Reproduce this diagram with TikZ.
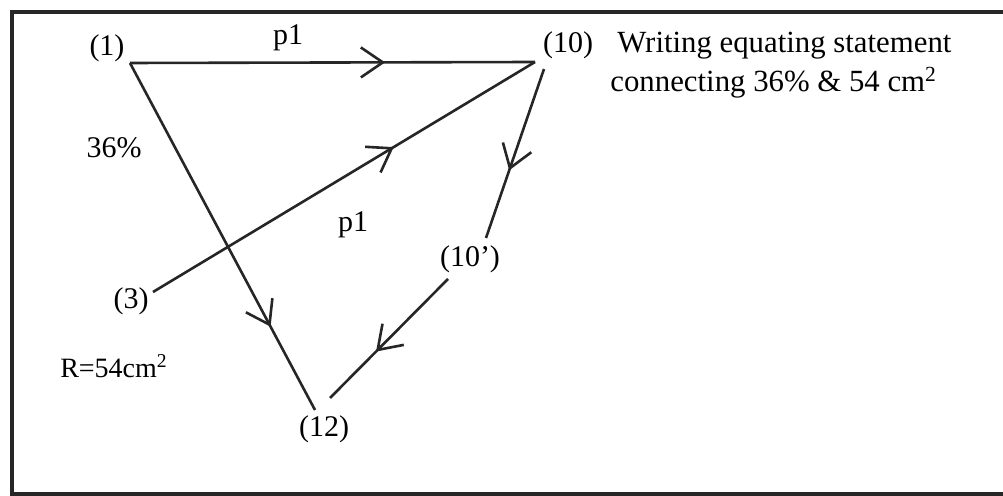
\documentclass[tikz,border=0pt]{standalone}
\usepackage{fontspec}
\setmainfont{Liberation Serif}
\usetikzlibrary{arrows.meta, decorations.markings}

\begin{document}
\begin{tikzpicture}[
  x=0.5pt, y=-0.5pt,
  font=\fontsize{15}{19}\selectfont,
  lbl/.style={anchor=base, inner sep=0pt},
  edge/.style={line width=1.3pt, draw=black!85},
  midarrow/.style={postaction={decorate}, decoration={markings,
      mark=at position #1 with {\arrow{Straight Barb[length=11pt, width=15pt, line width=1.3pt]}}}},
]
\useasboundingbox (0,0) rectangle (1003,496);
\draw[line width=1.6pt, black!85] (1012,12) -- (12,12) -- (12,494) -- (1012,494);

% vertices
\coordinate (v1) at (130,63);
\coordinate (v10) at (535,62);
\coordinate (v10out) at (544,69);
\coordinate (v3) at (153,292);
\coordinate (v10pin) at (486,238);
\coordinate (v10pout) at (448,279);
\coordinate (v12) at (315,410);
\coordinate (v12b) at (330,398);

% labels
\node[lbl] (l1) at (107,56) {(1)};
\node[lbl] (l10) at (568,53) {(10)};
\node[lbl] (l3) at (131,309) {(3)};
\node[lbl] (l10p) at (470,267) {(10')};
\node[lbl] (l12) at (324,437) {(12)};
\node[lbl, anchor=base west, font=\fontsize{15.4}{19}\selectfont] (stmt1) at (617,53) {Writing equating statement};
\node[lbl, anchor=base west, font=\fontsize{15.4}{19}\selectfont] (stmt2) at (610,92) {connecting 36\% \& 54 cm\textsuperscript{2}};
\node[lbl] (p1top) at (288,45) {p1};
\node[lbl] (p1mid) at (353,232) {p1};
\node[lbl] (pct) at (114,158) {36\%};
\node[lbl, font=\fontsize{14}{17}\selectfont] (area) at (114,378) {R=54cm\textsuperscript{2}};

% connectors
\draw[edge, midarrow=0.63] (v1) -- (v10);
\draw[edge, midarrow=0.76] (v1) -- (v12);
\draw[edge, midarrow=0.63] (v3) -- (v10);
\draw[edge, midarrow=0.60] (v10out) -- (v10pin);
\draw[edge, midarrow=0.61] (v10pout) -- (v12b);
\end{tikzpicture}
\end{document}
